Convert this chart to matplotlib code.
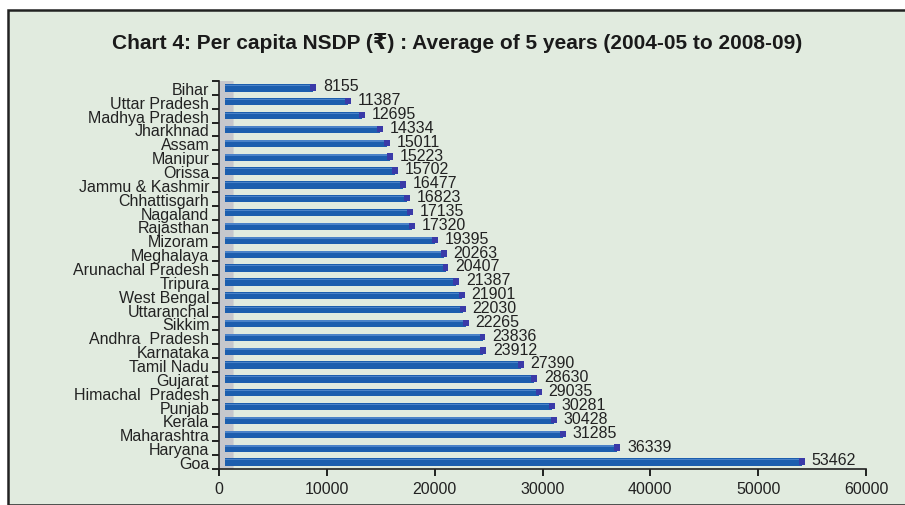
import matplotlib.pyplot as plt
import numpy as np
from matplotlib.patches import Polygon, Rectangle

states = [
    "Bihar", "Uttar Pradesh", "Madhya Pradesh", "Jharkhnad", "Assam", "Manipur",
    "Orissa", "Jammu & Kashmir", "Chhattisgarh", "Nagaland", "Rajasthan", "Mizoram",
    "Meghalaya", "Arunachal Pradesh", "Tripura", "West Bengal", "Uttaranchal", "Sikkim",
    "Andhra  Pradesh", "Karnataka", "Tamil Nadu", "Gujarat", "Himachal  Pradesh",
    "Punjab", "Kerala", "Maharashtra", "Haryana", "Goa",
]
nsdp = [
    8155, 11387, 12695, 14334, 15011, 15223, 15702, 16477, 16823, 17135, 17320,
    19395, 20263, 20407, 21387, 21901, 22030, 22265, 23836, 23912, 27390, 28630,
    29035, 30281, 30428, 31285, 36339, 53462,
]
x_ticks = [0, 10000, 20000, 30000, 40000, 50000, 60000]

BG = "#e1ebdf"
BAR = "#1c5eae"
BAR_TOP = "#4a82c8"
CAP = "#3a3aa8"
WALL = "#c6c7cc"

plt.rcParams["font.family"] = ["Liberation Sans", "DejaVu Sans"]

fig = plt.figure(figsize=(9.05, 5.06), dpi=100)
fig.patch.set_facecolor("white")

# framed green panel
panel = Rectangle((8 / 905, 0), 1.0, 1 - 11 / 506, transform=fig.transFigure,
                  facecolor=BG, edgecolor="#222222", linewidth=1.8, zorder=0)
fig.add_artist(panel)

fig.text(0.505, 1 - 43 / 506,
         "Chart 4: Per capita NSDP (\u20b9) : Average of 5 years (2004-05 to 2008-09)",
         ha="center", va="center", fontsize=15, fontweight="bold", color="#1a1a1a")

ax = fig.add_axes([219 / 905, 1 - 470 / 506, (866 - 219) / 905, (470 - 82) / 506])
ax.set_facecolor("none")

n = len(states)
y = np.arange(n)
ax.set_xlim(0, 60000)
ax.set_ylim(n - 0.5, -0.5)

# grey back wall of the 3-D plot area
wall = Polygon([(0, n - 0.2), (1350, n - 0.5), (1350, -0.9), (0, -0.5)],
               closed=True, facecolor=WALL, edgecolor="none", zorder=1)
ax.add_patch(wall)

depth = 600
h = 0.52
ax.barh(y, nsdp, left=depth, height=h, color=BAR, zorder=2)
ax.barh(y - h * 0.33, nsdp, left=depth, height=h * 0.2, color=BAR_TOP, zorder=3)
cap_w = 550
ax.barh(y - 0.04, [cap_w] * n, left=np.array(nsdp) + depth - cap_w * 0.5,
        height=h * 0.9, color=CAP, zorder=4)

for yi, v in zip(y, nsdp):
    ax.text(v + depth + 900, yi - 0.15, str(v), va="center", ha="left",
            fontsize=11.5, color="#222222", zorder=5)

ax.set_yticks(y)
ax.set_yticklabels(states, fontsize=11.5, color="#222222")
ax.set_yticks(np.arange(-0.5, n, 1.0), minor=True)
ax.tick_params(axis="y", which="major", length=0, pad=7)
ax.tick_params(axis="y", which="minor", length=5, width=1.2, direction="out")

ax.set_xticks(x_ticks)
ax.set_xticklabels([str(t) for t in x_ticks], fontsize=11.5, color="#222222")
ax.tick_params(axis="x", length=5, width=1.2, direction="out", pad=4)

for side in ("top", "right"):
    ax.spines[side].set_visible(False)
for side in ("left", "bottom"):
    ax.spines[side].set_linewidth(1.2)
    ax.spines[side].set_color("#222222")

fig.savefig("out.png", dpi=100, facecolor=fig.get_facecolor())
